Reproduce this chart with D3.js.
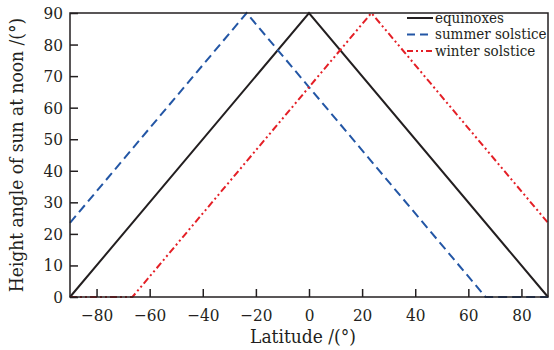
<!DOCTYPE html>
<head>
  <script src="https://d3js.org/d3.v7.min.js"></script>
  <style>
    body { margin: 0; background: #fff; }
    text { font-family: "DejaVu Serif Condensed", "DejaVu Serif", serif; fill: #231f20; }
  </style>
</head>
<body>

<svg width="554" height="350"></svg>

<script>
  // latitude (deg) vs noon sun height (deg), corner points
  const equinoxes = [[-90, 0], [0, 90], [90, 0]];
  const summerSolstice = [[-90, 23.5], [-23.5, 90], [66.5, 0], [90, 0]];
  const winterSolstice = [[-90, 0], [-66.5, 0], [23.5, 90], [90, 23.5]];

  const seriesNames = ['equinoxes', 'summer solstice', 'winter solstice'];
  const xTicks = [-80, -60, -40, -20, 0, 20, 40, 60, 80];
  const yTicks = [0, 10, 20, 30, 40, 50, 60, 70, 80, 90];

  const svg = d3.select("svg");
  const plotL = 70, plotR = 548, plotT = 13, plotB = 297;

  const xScale = d3.scaleLinear().domain([-90, 90]).range([plotL, plotR]);
  const yScale = d3.scaleLinear().domain([0, 90]).range([plotB, plotT]);

  const styles = [
    { color: '#231f20', dash: null },
    { color: '#2356a5', dash: '9,5' },
    { color: '#e41f26', dash: '7,3,2,3,2,3' }
  ];

  const line = d3.line()
    .x(d => xScale(d[0]))
    .y(d => yScale(d[1]));

  //lines
  [equinoxes, summerSolstice, winterSolstice].forEach((s, i) => {
    svg.append("path")
      .datum(s)
      .attr("d", line)
      .attr("fill", "none")
      .attr("stroke", styles[i].color)
      .attr("stroke-width", 2)
      .attr("stroke-dasharray", styles[i].dash);
  });

  //frame
  svg.append("rect")
    .attr("x", plotL).attr("y", plotT)
    .attr("width", plotR - plotL).attr("height", plotB - plotT)
    .attr("fill", "none")
    .attr("stroke", "#231f20")
    .attr("stroke-width", 1.5);

  const xAxis = svg.append("g")
    .attr("transform", `translate(0,${plotB})`)
    .call(d3.axisBottom(xScale).tickValues(xTicks).tickSizeInner(-8).tickSizeOuter(0)
      .tickFormat(d => d < 0 ? '\u2212' + Math.abs(d) : d));
  xAxis.select(".domain").remove();
  xAxis.selectAll("line").attr("stroke", "#231f20").attr("stroke-width", 1.5);
  xAxis.selectAll("text")
    .attr("y", 12)
    .attr("dy", "0.71em")
    .style("font-size", "17px");

  const yAxis = svg.append("g")
    .attr("transform", `translate(${plotL},0)`)
    .call(d3.axisLeft(yScale).tickValues(yTicks).tickSizeInner(-8).tickSizeOuter(0));
  yAxis.select(".domain").remove();
  yAxis.selectAll("line").attr("stroke", "#231f20").attr("stroke-width", 1.5);
  yAxis.selectAll("text")
    .attr("x", -7)
    .style("font-size", "17px");

  svg.append("text")
    .attr("x", 303)
    .attr("y", 343)
    .attr("text-anchor", "middle")
    .style("font-size", "19px")
    .text("Latitude /(\u00b0)");

  svg.append("text")
    .attr("transform", "rotate(-90)")
    .attr("x", -(plotT + plotB) / 2)
    .attr("y", 23)
    .attr("text-anchor", "middle")
    .style("font-size", "19px")
    .text("Height angle of sun at noon /(\u00b0)");

  //legend
  const legend = svg.selectAll(".legend")
    .data(seriesNames)
    .enter().append("g")
    .attr("class", "legend")
    .attr("transform", (d, i) => `translate(407,${18 + i * 16.5})`);

  legend.append("line")
    .attr("x1", 0).attr("x2", 26)
    .attr("stroke", (d, i) => styles[i].color)
    .attr("stroke-width", 2)
    .attr("stroke-dasharray", (d, i) => i === 1 ? '8,5' : i === 2 ? '6,3,2,3,2,3' : null);

  legend.append("text")
    .attr("x", 28)
    .attr("dy", "0.32em")
    .style("font-size", "15px")
    .text(d => d);
</script>

</body>
</html>
